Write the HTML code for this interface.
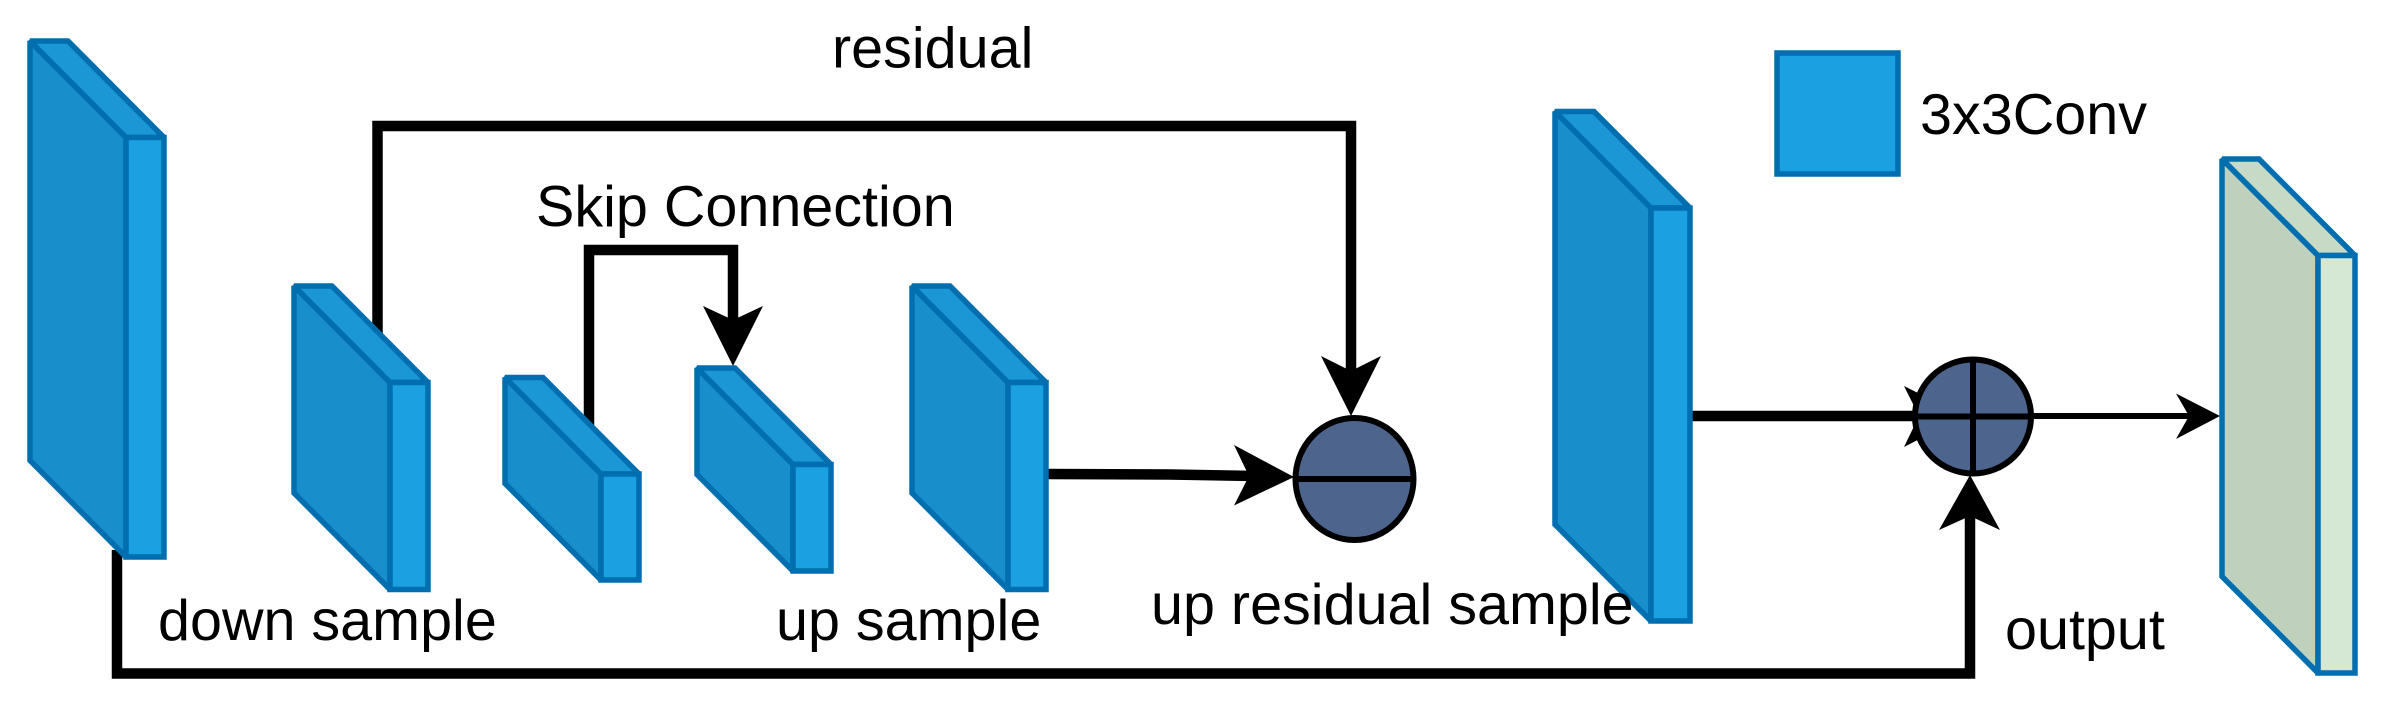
<!DOCTYPE html>
<html>
<head>
<meta charset="utf-8">
<style>
html,body{margin:0;padding:0;background:#fff;width:2387px;height:719px;overflow:hidden}
svg{display:block}
text{font-family:"Liberation Sans",Arial,sans-serif;font-size:57.5px;fill:#000}
.l{fill:#188fcb}.t{fill:#1b97d6}.f{fill:#1ba1e2}
.s{stroke:#006eaf;stroke-width:5.5;stroke-linejoin:miter;stroke-miterlimit:2}
.c{fill:none;stroke:#000;stroke-width:10.5;stroke-linejoin:miter}
</style>
</head>
<body>
<svg width="2387" height="719" viewBox="0 0 2387 719" xmlns="http://www.w3.org/2000/svg">
<rect width="2387" height="719" fill="#fff"/>

<!-- connectors -->
<polyline class="c" points="377.5,340 377.5,126 1351,126 1351,375"/>
<polygon points="1351,416 1321,356 1351,371 1381,356"/>
<polyline class="c" points="589,430 589,250 733,250 733,325"/>
<polygon points="733,366 703,306 733,320 763,306"/>
<polyline class="c" points="1046,474 1170,474.5 1255,476"/>
<polygon points="1294,477 1234,445 1249,476 1234,505.5"/>
<polyline class="c" points="1690,416 1930,416"/>
<polygon points="1964,416 1904,386 1919,416 1904,447"/>
<line x1="2029" y1="416" x2="2195" y2="416" stroke="#000" stroke-width="6"/>
<polygon points="2220,416 2176,393.5 2189,416 2176,439"/>
<polyline class="c" points="117,550 117,673.5 1970,673.5 1970,515"/>
<polygon points="1970,475 1939,530 1970,516 2000,530"/>

<!-- box 1 -->
<g class="s">
<polygon class="l" points="30,41 126,137.5 126,557 30,460.5"/>
<polygon class="t" points="30,41 68,41 164,137.5 126,137.5"/>
<rect class="f" x="126" y="137.5" width="38" height="419.5"/>
</g>
<!-- box 2 -->
<g class="s">
<polygon class="l" points="294,286 390,382.5 390,589.5 294,493"/>
<polygon class="t" points="294,286 332,286 428,382.5 390,382.5"/>
<rect class="f" x="390" y="382.5" width="38" height="207"/>
</g>
<!-- box 3 -->
<g class="s">
<polygon class="l" points="505,377.5 601,474 601,580 505,483.5"/>
<polygon class="t" points="505,377.5 543,377.5 639,474 601,474"/>
<rect class="f" x="601" y="474" width="38" height="106"/>
</g>
<!-- box 4 -->
<g class="s">
<polygon class="l" points="697,368 793,464.5 793,571 697,474.5"/>
<polygon class="t" points="697,368 735,368 831,464.5 793,464.5"/>
<rect class="f" x="793" y="464.5" width="38" height="106.5"/>
</g>
<!-- box 5 -->
<g class="s">
<polygon class="l" points="912,286 1008,382.5 1008,589.5 912,493"/>
<polygon class="t" points="912,286 950,286 1046,382.5 1008,382.5"/>
<rect class="f" x="1008" y="382.5" width="38" height="207"/>
</g>
<!-- box 6 -->
<g class="s">
<polygon class="l" points="1555,111.5 1651,208 1651,621 1555,524.5"/>
<polygon class="t" points="1555,111.5 1594,111.5 1690,208 1651,208"/>
<rect class="f" x="1651" y="208" width="39" height="413"/>
</g>
<!-- box 7 -->
<g class="s">
<polygon fill="#bfd1bd" points="2222,159 2318,255.5 2318,673 2222,576.5"/>
<polygon fill="#c7dac6" points="2222,159 2259,159 2355,255.5 2318,255.5"/>
<rect fill="#d5e8d4" x="2318" y="255.5" width="37" height="417.5"/>
</g>
<!-- legend -->
<rect class="f s" x="1777" y="53" width="121" height="121"/>

<!-- circles -->
<ellipse cx="1354.5" cy="479" rx="59" ry="61" fill="#4d648d" stroke="#000" stroke-width="6"/>
<line x1="1296" y1="479" x2="1413" y2="479" stroke="#000" stroke-width="6"/>
<ellipse cx="1973" cy="416.5" rx="58" ry="57" fill="#4d648d" stroke="#000" stroke-width="6"/>
<line x1="1915" y1="416.5" x2="2031" y2="416.5" stroke="#000" stroke-width="6"/>
<line x1="1973" y1="360" x2="1973" y2="473" stroke="#000" stroke-width="6"/>

<!-- labels -->
<text x="832" y="67.5">residual</text>
<text x="536" y="226">Skip Connection</text>
<text x="158" y="640">down sample</text>
<text x="776" y="640">up sample</text>
<text x="1151" y="624">up residual sample</text>
<text x="2005" y="649">output</text>
<text x="1920" y="134">3x3Conv</text>
</svg>
</body>
</html>
